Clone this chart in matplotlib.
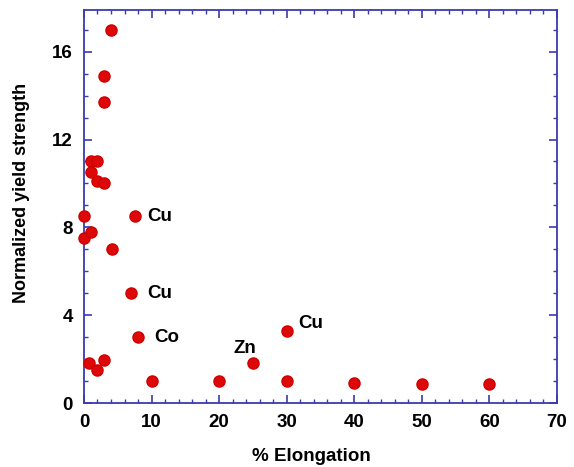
import matplotlib.pyplot as plt
from matplotlib.ticker import MultipleLocator

plt.rcParams['font.family'] = ['Liberation Sans', 'DejaVu Sans']

# % elongation vs normalized yield strength
elong = [4, 3, 3, 1, 2, 1, 2, 3, 0, 7.5, 0, 1, 4.1, 7, 8, 0.8, 2, 3, 10, 20, 25, 30, 30, 40, 50, 60]
strength = [17, 14.9, 13.7, 11, 11, 10.5, 10.1, 10, 8.5, 8.5, 7.5, 7.8, 7, 5, 3, 1.8, 1.5, 1.95, 1.0, 1.0, 1.8, 3.3, 1.0, 0.9, 0.87, 0.87]

# labelled points: (text, x, y, dx px, dy px, ha)
labels = [('Cu', 7.5, 8.5, 13, 0, 'left'),
          ('Cu', 7, 5, 16, 0, 'left'),
          ('Co', 8, 3, 16, 0, 'left'),
          ('Zn', 25, 1.8, -8, 15, 'center'),
          ('Cu', 30, 3.3, 12, 7, 'left')]

fig = plt.figure(figsize=(5.74, 4.67), dpi=100)
ax = fig.add_axes([0.1463, 0.137, 0.824, 0.8416])

ax.plot(elong, strength, 'o', color='#dd0808', markeredgecolor='#d00000',
        markersize=8, clip_on=False, zorder=3)

for txt, x, y, dx, dy, ha in labels:
    ax.annotate(txt, (x, y), xytext=(dx * 0.72, dy * 0.72), textcoords='offset points',
                ha=ha, va='center', fontsize=13.5, fontweight='bold')

ax.set_xlim(0, 70)
ax.set_ylim(0, 17.9)
ax.xaxis.set_major_locator(MultipleLocator(10))
ax.xaxis.set_minor_locator(MultipleLocator(2))
ax.yaxis.set_major_locator(MultipleLocator(4))
ax.yaxis.set_minor_locator(MultipleLocator(1))

blue = '#3a3ab0'
for s in ax.spines.values():
    s.set_color(blue)
    s.set_linewidth(1.3)
ax.tick_params(which='both', direction='in', top=True, right=True, color=blue,
               labelsize=13.5, pad=8)
ax.tick_params(which='major', length=6, width=1.2)
ax.tick_params(which='minor', length=3, width=1.0)
for lab in ax.get_xticklabels() + ax.get_yticklabels():
    lab.set_fontweight('bold')

ax.set_xlabel('% Elongation', fontsize=13.5, fontweight='bold')
ax.set_ylabel('Normalized yield strength', fontsize=13, fontweight='bold')
ax.xaxis.set_label_coords(0.48, -0.115)
ax.yaxis.set_label_coords(-0.114, 0.534)

plt.savefig('out.png', dpi=100)
